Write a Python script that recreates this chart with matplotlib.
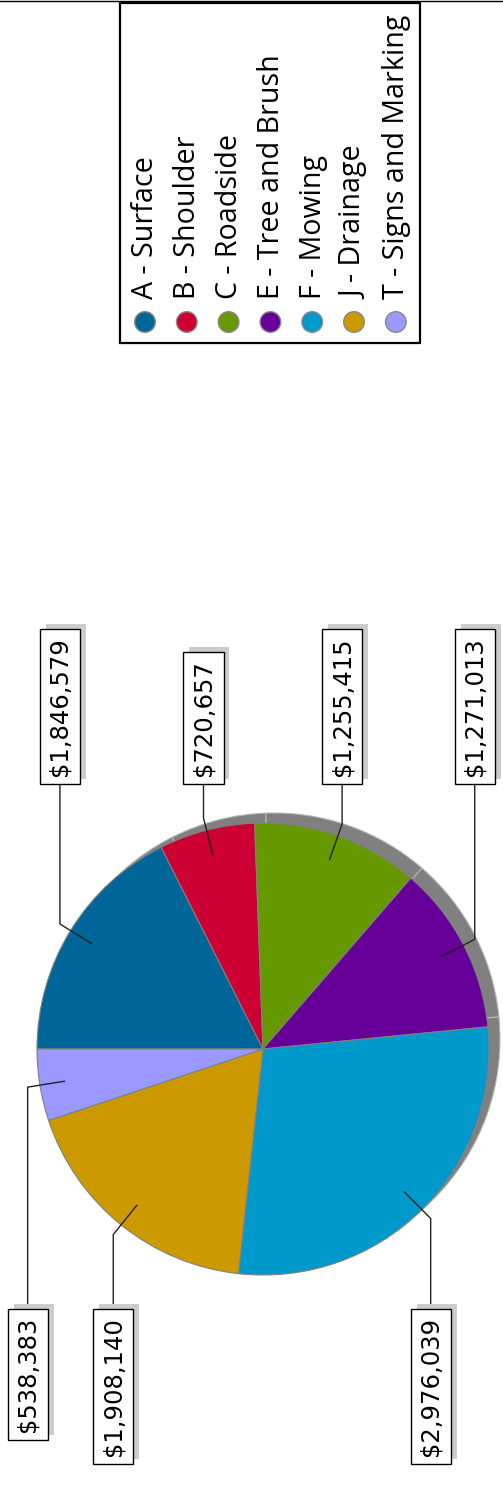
import matplotlib
matplotlib.use('Agg')
import matplotlib.pyplot as plt
import matplotlib.patheffects as pe
from matplotlib.patches import Rectangle
import numpy as np

# maintenance cost by activity group
codes = ['A', 'B', 'C', 'E', 'F', 'J', 'T']
names = ['Surface', 'Shoulder', 'Roadside', 'Tree and Brush', 'Mowing',
         'Drainage', 'Signs and Marking']
costs = [1846579, 720657, 1255415, 1271013, 2976039, 1908140, 538383]
colors = ['#006699', '#CC0033', '#669900', '#660099', '#0099CC', '#CC9900', '#9999FF']

W, H = 503, 1495
fig = plt.figure(figsize=(W / 100, H / 100), dpi=100)
ax = fig.add_axes([0, 0, 1, 1])

cx, cy, R = 263, 446, 226

# drop shadow: same pie in gray, pushed up and to the right
ax.pie(costs, startangle=180, counterclock=False, center=(cx + 11, cy + 10), radius=R,
       colors=['#808080'] * len(costs),
       wedgeprops=dict(edgecolor='#b4b4b4', linewidth=0.8))
wedges, _ = ax.pie(costs, startangle=180, counterclock=False, center=(cx, cy), radius=R,
                   colors=colors, wedgeprops=dict(edgecolor='#808080', linewidth=0.8))

# leader lines + boxed value labels
for w, v in zip(wedges, costs):
    mid = np.deg2rad((w.theta1 + w.theta2) / 2)
    ux, uy = np.cos(mid), np.sin(mid)
    x0, y0 = cx + 0.89 * R * ux, cy + 0.89 * R * uy
    x1, y1 = cx + 1.055 * R * ux, cy + 1.055 * R * uy
    top = uy > 0
    yb = 710 if top else 187
    ax.plot([x0, x1, x1], [y0, y1, yb], color='#222222', lw=1.0, zorder=3)
    t = ax.text(x1, yb + 9 if top else yb - 9, '\\$' + f'{v:,}', rotation=90,
                ha='center', va='bottom' if top else 'top', fontsize=17.5,
                family='DejaVu Sans', zorder=5,
                bbox=dict(boxstyle='square,pad=0.33', fc='white', ec='black', lw=1.0))
    t.get_bbox_patch().set_path_effects([
        pe.SimplePatchShadow(offset=(4.3, 3.6), shadow_rgbFace='#cccccc', alpha=1),
        pe.Normal()])

# legend drawn by hand so the entries can run sideways
lx = 145 + 41.8 * np.arange(len(codes))
ax.add_patch(Rectangle((120, H - 343), 300, 340, fill=False, ec='black', lw=1.6, zorder=4))
ax.scatter(lx, [H - 322] * len(codes), s=220, c=colors, edgecolors='#888888',
           linewidths=1, zorder=4)
for x, c, n in zip(lx, codes, names):
    ax.text(x + 1, H - 299, f'{c} - {n}', rotation=90, ha='center', va='bottom',
            fontsize=20.6, family='Open Sans')

ax.plot([0, W], [H - 0.5, H - 0.5], color='black', lw=1.0)

ax.set_xlim(0, W)
ax.set_ylim(0, H)
ax.axis('off')
fig.savefig('out.png', dpi=100)
